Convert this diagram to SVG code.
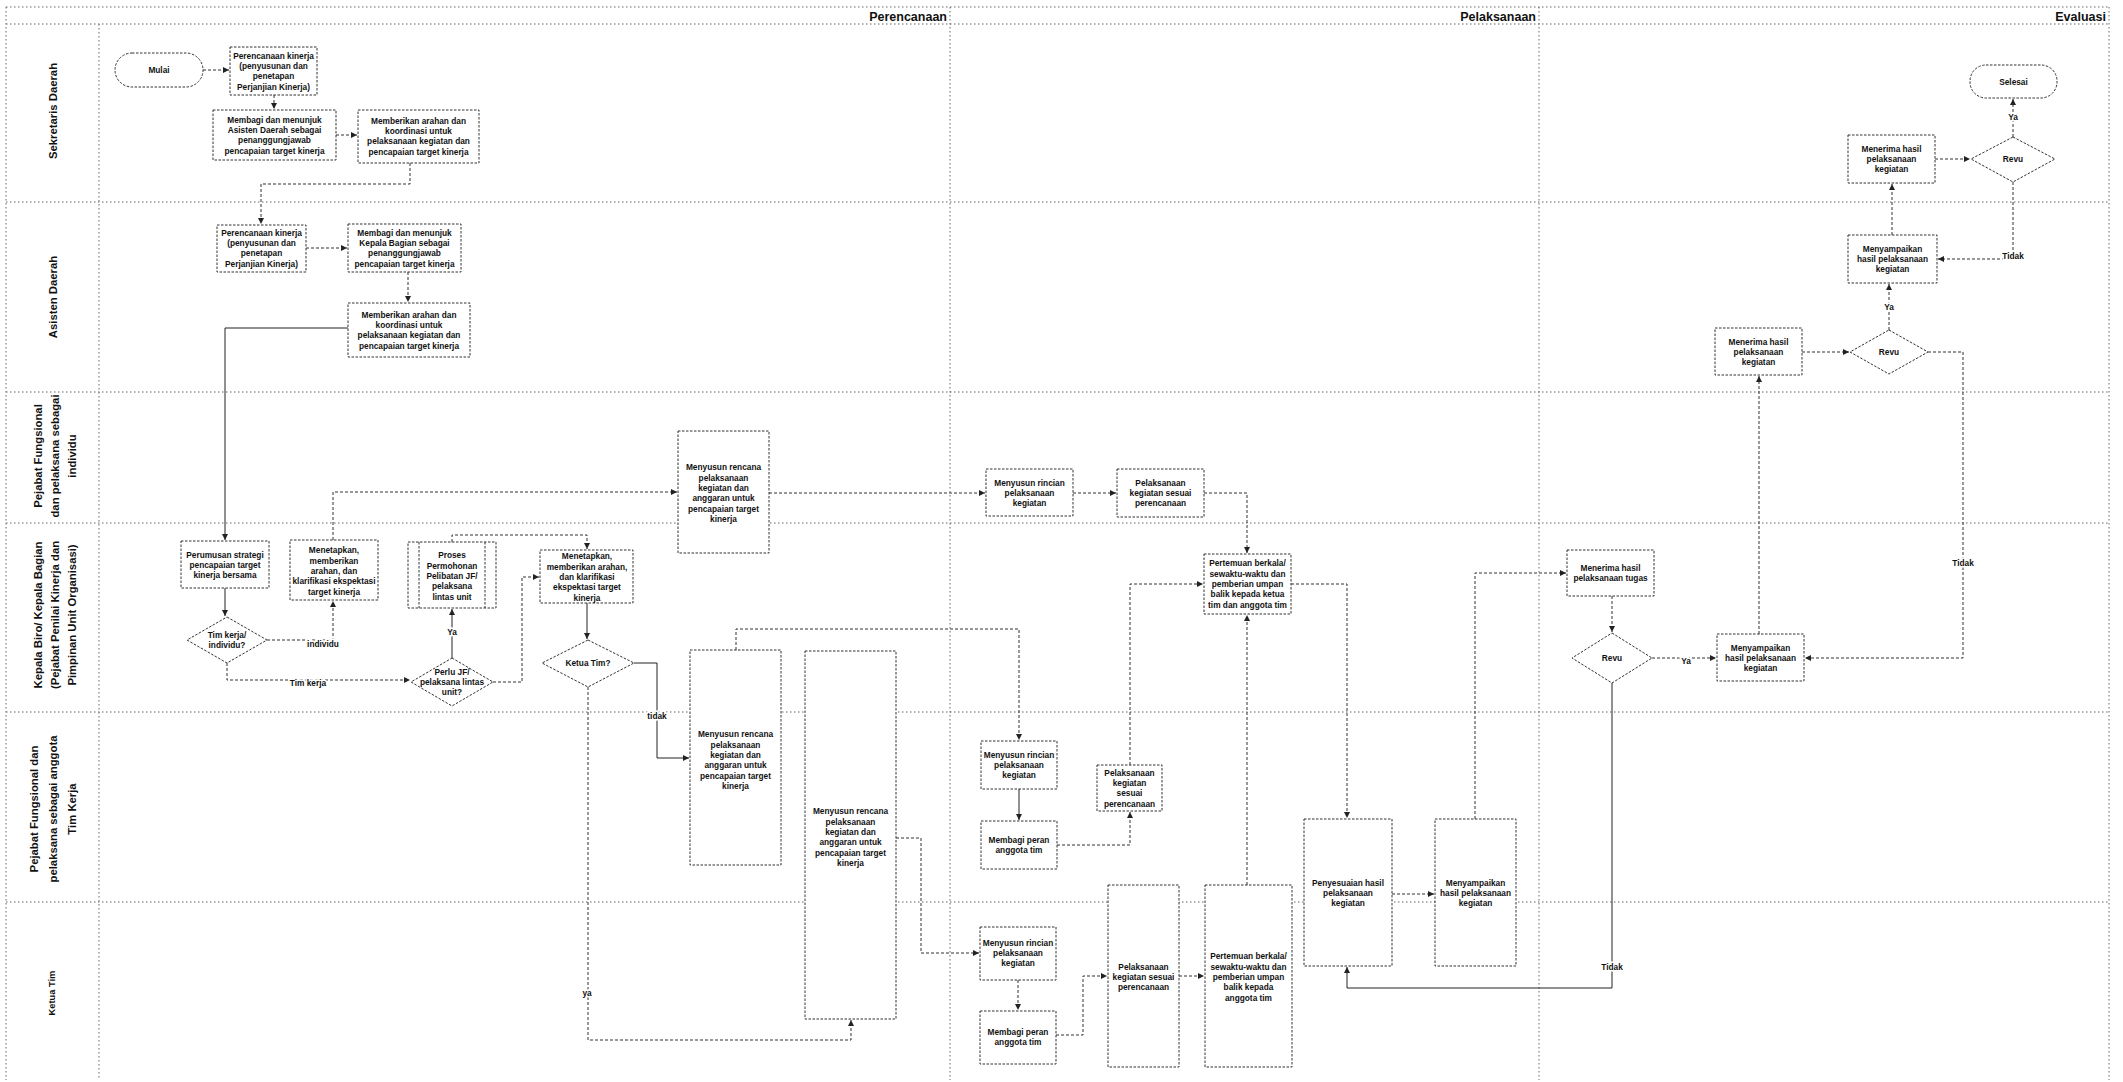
<svg xmlns="http://www.w3.org/2000/svg" width="2123" height="1082" viewBox="0 0 2123 1082">
<style>
.ln{fill:none;stroke:#666;stroke-width:1;stroke-dasharray:1.5 2.5}
.bx{fill:#fff;stroke:#333;stroke-width:1;stroke-dasharray:2.5 1.5}
.c{fill:none;stroke:#333;stroke-width:1;stroke-dasharray:3 2;marker-end:url(#a)}
.cs{stroke-dasharray:none;stroke:#222}
.t{font-family:"Liberation Sans",Arial,sans-serif;font-weight:700;font-size:8.3px;text-anchor:middle;fill:#111}
.lb{font-family:"Liberation Sans",Arial,sans-serif;font-weight:700;font-size:8.3px;text-anchor:middle;fill:#111;paint-order:stroke;stroke:#fff;stroke-width:3px}
.ll{font-family:"Liberation Sans",Arial,sans-serif;font-weight:700;font-size:11.3px;text-anchor:middle;dominant-baseline:central;fill:#111}
.ph{font-family:"Liberation Sans",Arial,sans-serif;font-weight:700;font-size:12.5px;text-anchor:end;fill:#111}
</style>
<defs>
<marker id="a" viewBox="0 0 8 8" refX="8" refY="4" markerWidth="6" markerHeight="6" orient="auto" markerUnits="userSpaceOnUse"><path d="M0,0 L8,4 L0,8 z" fill="#222"/></marker>
</defs>
<rect width="2123" height="1082" fill="#fff"/>
<g id="lanes">
<path class="ln" d="M6,7 H2109 M6,24 H2109 M6,7 V1080 M99,24 V1080 M950,7 V1080 M1539,7 V1080 M2109,7 V1080"/>
<path class="ln" d="M6,202 H2109 M6,392 H2109 M6,523 H2109 M6,712 H2109 M6,902 H2109"/>
<text class="ph" x="947" y="21">Perencanaan</text>
<text class="ph" x="1536" y="21">Pelaksanaan</text>
<text class="ph" x="2106" y="21">Evaluasi</text>
<text class="ll" transform="translate(53,111) rotate(-90)">Sekretaris Daerah</text>
<text class="ll" transform="translate(53,297) rotate(-90)">Asisten Daerah</text>
<text class="ll" transform="translate(55,456) rotate(-90)"><tspan x="0" y="-17">Pejabat Fungsional</tspan><tspan x="0" y="0">dan pelaksana sebagai</tspan><tspan x="0" y="17">individu</tspan></text>
<text class="ll" transform="translate(55,615) rotate(-90)"><tspan x="0" y="-17">Kepala Biro/ Kepala Bagian</tspan><tspan x="0" y="0">(Pejabat Penilai Kinerja dan</tspan><tspan x="0" y="17">Pimpinan Unit Organisasi)</tspan></text>
<text class="ll" transform="translate(53,809) rotate(-90)"><tspan x="0" y="-19">Pejabat Fungsional dan</tspan><tspan x="0" y="0">pelaksana sebagai anggota</tspan><tspan x="0" y="19">Tim Kerja</tspan></text>
<text class="ll" style="font-size:9.3px" transform="translate(52,993) rotate(-90)">Ketua Tim</text>
</g>
<g id="connectors">
<path class="c" d="M203,70 H229"/>
<path class="c" d="M274,95 V109"/>
<path class="c" d="M336,135 H357"/>
<path class="c" d="M410,163 V184 H261 V224"/>
<path class="c" d="M306,248 H347"/>
<path class="c" d="M408,272 V302"/>
<path class="c cs" d="M348,328 H225 V540"/>
<path class="c cs" d="M225,588 V616"/>
<path class="c" d="M267,640 H333 V601"/>
<path class="c" d="M227,663 V680 H410"/>
<path class="c cs" d="M452,658 V609"/>
<path class="c" d="M452,542 V535 H587 V549"/>
<path class="c" d="M493,682 H522 V577 H539"/>
<path class="c cs" d="M587,603 V639"/>
<path class="c cs" d="M634,663 H657 V758 H689"/>
<path class="c" d="M588,687 V1040 H851 V1020"/>
<path class="c" d="M333,540 V492 H677"/>
<path class="c" d="M769,493 H985"/>
<path class="c" d="M1073,493 H1116"/>
<path class="c" d="M1204,493 H1247 V553"/>
<path class="c" d="M736,650 V629 H1019 V740"/>
<path class="c cs" d="M1019,789 V820"/>
<path class="c" d="M1057,845 H1130 V812"/>
<path class="c" d="M1130,765 V584 H1203"/>
<path class="c" d="M896,838 H921 V953 H979"/>
<path class="c" d="M1018,980 V1010"/>
<path class="c" d="M1056,1035 H1083 V976 H1107"/>
<path class="c" d="M1179,976 H1204"/>
<path class="c" d="M1247,885 V615"/>
<path class="c" d="M1291,584 H1347 V818"/>
<path class="c" d="M1392,894 H1434"/>
<path class="c" d="M1475,819 V573 H1566"/>
<path class="c" d="M1612,596 V632"/>
<path class="c" d="M1652,658 H1716"/>
<path class="c cs" d="M1612,683 V988 H1347 V967"/>
<path class="c" d="M1759,634 V376"/>
<path class="c" d="M1802,352 H1849"/>
<path class="c" d="M1889,330 V284"/>
<path class="c" d="M1928,352 H1963 V658 H1805"/>
<path class="c" d="M1892,235 V184"/>
<path class="c" d="M1935,159 H1970"/>
<path class="c" d="M2013,137 V99"/>
<path class="c" d="M2013,182 V259 H1938"/>
<text class="lb" x="323" y="647">individu</text>
<text class="lb" x="308" y="686">Tim kerja</text>
<text class="lb" x="452" y="635">Ya</text>
<text class="lb" x="657" y="719">tidak</text>
<text class="lb" x="587" y="996">ya</text>
<text class="lb" x="1686" y="664">Ya</text>
<text class="lb" x="1612" y="970">Tidak</text>
<text class="lb" x="1889" y="310">Ya</text>
<text class="lb" x="1963" y="566">Tidak</text>
<text class="lb" x="2013" y="120">Ya</text>
<text class="lb" x="2013" y="259">Tidak</text>
</g>
<g id="nodes">
<g id="mulai"><rect class="bx" x="115" y="53" width="88" height="34" rx="17"/><text class="t" x="159" y="73">Mulai</text></g>
<g id="a1"><rect class="bx" x="230" y="47" width="87" height="48"/><text class="t"><tspan x="273.5" y="58.6">Perencanaan kinerja</tspan><tspan x="273.5" y="68.9">(penyusunan dan</tspan><tspan x="273.5" y="79.2">penetapan</tspan><tspan x="273.5" y="89.5">Perjanjian Kinerja)</tspan></text></g>
<g id="a2"><rect class="bx" x="213" y="110" width="123" height="50"/><text class="t"><tspan x="274.5" y="122.6">Membagi dan menunjuk</tspan><tspan x="274.5" y="132.9">Asisten Daerah sebagai</tspan><tspan x="274.5" y="143.2">penanggungjawab</tspan><tspan x="274.5" y="153.5">pencapaian target kinerja</tspan></text></g>
<g id="a3"><rect class="bx" x="358" y="110" width="121" height="53"/><text class="t"><tspan x="418.5" y="123.6">Memberikan arahan dan</tspan><tspan x="418.5" y="133.9">koordinasi untuk</tspan><tspan x="418.5" y="144.2">pelaksanaan kegiatan dan</tspan><tspan x="418.5" y="154.5">pencapaian target kinerja</tspan></text></g>
<g id="b1"><rect class="bx" x="217" y="225" width="89" height="47"/><text class="t"><tspan x="261.5" y="235.6">Perencanaan kinerja</tspan><tspan x="261.5" y="245.9">(penyusunan dan</tspan><tspan x="261.5" y="256.2">penetapan</tspan><tspan x="261.5" y="266.5">Perjanjian Kinerja)</tspan></text></g>
<g id="b2"><rect class="bx" x="348" y="224" width="113" height="48"/><text class="t"><tspan x="404.5" y="235.6">Membagi dan menunjuk</tspan><tspan x="404.5" y="245.9">Kepala Bagian sebagai</tspan><tspan x="404.5" y="256.2">penanggungjawab</tspan><tspan x="404.5" y="266.5">pencapaian target kinerja</tspan></text></g>
<g id="b3"><rect class="bx" x="348" y="303" width="122" height="54"/><text class="t"><tspan x="409" y="317.6">Memberikan arahan dan</tspan><tspan x="409" y="327.9">koordinasi untuk</tspan><tspan x="409" y="338.2">pelaksanaan kegiatan dan</tspan><tspan x="409" y="348.5">pencapaian target kinerja</tspan></text></g>
<g id="c1"><rect class="bx" x="181" y="541" width="88" height="47"/><text class="t"><tspan x="225" y="557.7">Perumusan strategi</tspan><tspan x="225" y="568">pencapaian target</tspan><tspan x="225" y="578.3">kinerja bersama</tspan></text></g>
<g id="q1"><polygon class="bx" points="227,617 267,640 227,663 187,640"/><text class="t"><tspan x="227" y="637.9">Tim kerja/</tspan><tspan x="227" y="648.2">individu?</tspan></text></g>
<g id="c2"><rect class="bx" x="290" y="540" width="88" height="60"/><text class="t"><tspan x="334" y="553.4">Menetapkan,</tspan><tspan x="334" y="563.7">memberikan</tspan><tspan x="334" y="574">arahan, dan</tspan><tspan x="334" y="584.3">klarifikasi ekspektasi</tspan><tspan x="334" y="594.6">target kinerja</tspan></text></g>
<g id="c3"><rect class="bx" x="408" y="542" width="88" height="66"/><path class="bx" d="M419,542 V608 M485,542 V608"/><text class="t"><tspan x="452" y="558.4">Proses</tspan><tspan x="452" y="568.7">Permohonan</tspan><tspan x="452" y="579">Pelibatan JF/</tspan><tspan x="452" y="589.3">pelaksana</tspan><tspan x="452" y="599.6">lintas unit</tspan></text></g>
<g id="q2"><polygon class="bx" points="452,658 493,682 452,706 411,682"/><text class="t"><tspan x="452" y="674.7">Perlu JF/</tspan><tspan x="452" y="685">pelaksana lintas</tspan><tspan x="452" y="695.3">unit?</tspan></text></g>
<g id="c4"><rect class="bx" x="540" y="550" width="93" height="53"/><text class="t"><tspan x="587" y="559.4">Menetapkan,</tspan><tspan x="587" y="569.7">memberikan arahan,</tspan><tspan x="587" y="580">dan klarifikasi</tspan><tspan x="587" y="590.3">ekspektasi target</tspan><tspan x="587" y="600.6">kinerja</tspan></text></g>
<g id="q3"><polygon class="bx" points="588,640 634,663 588,687 542,663"/><text class="t" x="588" y="666">Ketua Tim?</text></g>
<g id="d1"><rect class="bx" x="678" y="431" width="91" height="122"/><text class="t"><tspan x="723.5" y="470.3">Menyusun rencana</tspan><tspan x="723.5" y="480.6">pelaksanaan</tspan><tspan x="723.5" y="490.9">kegiatan dan</tspan><tspan x="723.5" y="501.2">anggaran untuk</tspan><tspan x="723.5" y="511.5">pencapaian target</tspan><tspan x="723.5" y="521.8">kinerja</tspan></text></g>
<g id="f1"><rect class="bx" x="690" y="650" width="91" height="215"/><text class="t"><tspan x="735.5" y="737.3">Menyusun rencana</tspan><tspan x="735.5" y="747.6">pelaksanaan</tspan><tspan x="735.5" y="757.9">kegiatan dan</tspan><tspan x="735.5" y="768.2">anggaran untuk</tspan><tspan x="735.5" y="778.5">pencapaian target</tspan><tspan x="735.5" y="788.8">kinerja</tspan></text></g>
<g id="f2"><rect class="bx" x="805" y="651" width="91" height="368"/><text class="t"><tspan x="850.5" y="814.3">Menyusun rencana</tspan><tspan x="850.5" y="824.6">pelaksanaan</tspan><tspan x="850.5" y="834.9">kegiatan dan</tspan><tspan x="850.5" y="845.2">anggaran untuk</tspan><tspan x="850.5" y="855.5">pencapaian target</tspan><tspan x="850.5" y="865.8">kinerja</tspan></text></g>
<g id="d2"><rect class="bx" x="986" y="469" width="87" height="47"/><text class="t"><tspan x="1029.5" y="485.7">Menyusun rincian</tspan><tspan x="1029.5" y="496">pelaksanaan</tspan><tspan x="1029.5" y="506.3">kegiatan</tspan></text></g>
<g id="d3"><rect class="bx" x="1117" y="469" width="87" height="48"/><text class="t"><tspan x="1160.5" y="485.7">Pelaksanaan</tspan><tspan x="1160.5" y="496">kegiatan sesuai</tspan><tspan x="1160.5" y="506.3">perencanaan</tspan></text></g>
<g id="e1"><rect class="bx" x="1204" y="554" width="87" height="60"/><text class="t"><tspan x="1247.5" y="566.4">Pertemuan berkala/</tspan><tspan x="1247.5" y="576.7">sewaktu-waktu dan</tspan><tspan x="1247.5" y="587">pemberian umpan</tspan><tspan x="1247.5" y="597.3">balik kepada ketua</tspan><tspan x="1247.5" y="607.6">tim dan anggota tim</tspan></text></g>
<g id="g1"><rect class="bx" x="981" y="741" width="76" height="48"/><text class="t"><tspan x="1019" y="757.7">Menyusun rincian</tspan><tspan x="1019" y="768">pelaksanaan</tspan><tspan x="1019" y="778.3">kegiatan</tspan></text></g>
<g id="g2"><rect class="bx" x="981" y="821" width="76" height="48"/><text class="t"><tspan x="1019" y="842.9">Membagi peran</tspan><tspan x="1019" y="853.2">anggota tim</tspan></text></g>
<g id="g1b"><rect class="bx" x="1097" y="765" width="65" height="46"/><text class="t"><tspan x="1129.5" y="775.6">Pelaksanaan</tspan><tspan x="1129.5" y="785.9">kegiatan</tspan><tspan x="1129.5" y="796.2">sesuai</tspan><tspan x="1129.5" y="806.5">perencanaan</tspan></text></g>
<g id="g3"><rect class="bx" x="980" y="927" width="76" height="53"/><text class="t"><tspan x="1018" y="945.7">Menyusun rincian</tspan><tspan x="1018" y="956">pelaksanaan</tspan><tspan x="1018" y="966.3">kegiatan</tspan></text></g>
<g id="g4"><rect class="bx" x="980" y="1011" width="76" height="53"/><text class="t"><tspan x="1018" y="1034.9">Membagi peran</tspan><tspan x="1018" y="1045.2">anggota tim</tspan></text></g>
<g id="g5"><rect class="bx" x="1108" y="885" width="71" height="182"/><text class="t"><tspan x="1143.5" y="969.7">Pelaksanaan</tspan><tspan x="1143.5" y="980">kegiatan sesuai</tspan><tspan x="1143.5" y="990.3">perencanaan</tspan></text></g>
<g id="e2"><rect class="bx" x="1205" y="885" width="87" height="182"/><text class="t"><tspan x="1248.5" y="959.4">Pertemuan berkala/</tspan><tspan x="1248.5" y="969.7">sewaktu-waktu dan</tspan><tspan x="1248.5" y="980">pemberian umpan</tspan><tspan x="1248.5" y="990.3">balik kepada</tspan><tspan x="1248.5" y="1000.6">anggota tim</tspan></text></g>
<g id="h1"><rect class="bx" x="1304" y="819" width="88" height="147"/><text class="t"><tspan x="1348" y="885.7">Penyesuaian hasil</tspan><tspan x="1348" y="896">pelaksanaan</tspan><tspan x="1348" y="906.3">kegiatan</tspan></text></g>
<g id="h2"><rect class="bx" x="1435" y="819" width="81" height="147"/><text class="t"><tspan x="1475.5" y="885.7">Menyampaikan</tspan><tspan x="1475.5" y="896">hasil pelaksanaan</tspan><tspan x="1475.5" y="906.3">kegiatan</tspan></text></g>
<g id="i1"><rect class="bx" x="1567" y="550" width="87" height="46"/><text class="t"><tspan x="1610.5" y="570.9">Menerima hasil</tspan><tspan x="1610.5" y="581.2">pelaksanaan tugas</tspan></text></g>
<g id="revu1"><polygon class="bx" points="1612,633 1652,658 1612,683 1572,658"/><text class="t" x="1612" y="661">Revu</text></g>
<g id="j1"><rect class="bx" x="1717" y="634" width="87" height="47"/><text class="t"><tspan x="1760.5" y="650.7">Menyampaikan</tspan><tspan x="1760.5" y="661">hasil pelaksanaan</tspan><tspan x="1760.5" y="671.3">kegiatan</tspan></text></g>
<g id="k1"><rect class="bx" x="1715" y="328" width="87" height="47"/><text class="t"><tspan x="1758.5" y="344.7">Menerima hasil</tspan><tspan x="1758.5" y="355">pelaksanaan</tspan><tspan x="1758.5" y="365.3">kegiatan</tspan></text></g>
<g id="revu2"><polygon class="bx" points="1889,330 1928,352 1889,374 1850,352"/><text class="t" x="1889" y="355">Revu</text></g>
<g id="l1"><rect class="bx" x="1848" y="235" width="89" height="48"/><text class="t"><tspan x="1892.5" y="251.7">Menyampaikan</tspan><tspan x="1892.5" y="262">hasil pelaksanaan</tspan><tspan x="1892.5" y="272.3">kegiatan</tspan></text></g>
<g id="m1"><rect class="bx" x="1848" y="135" width="87" height="48"/><text class="t"><tspan x="1891.5" y="151.7">Menerima hasil</tspan><tspan x="1891.5" y="162">pelaksanaan</tspan><tspan x="1891.5" y="172.3">kegiatan</tspan></text></g>
<g id="revu3"><polygon class="bx" points="2013,137 2055,159 2013,182 1971,159"/><text class="t" x="2013" y="162">Revu</text></g>
<g id="selesai"><rect class="bx" x="1970" y="65" width="87" height="33" rx="16"/><text class="t" x="2013.5" y="84.5">Selesai</text></g>
</g>
</svg>
